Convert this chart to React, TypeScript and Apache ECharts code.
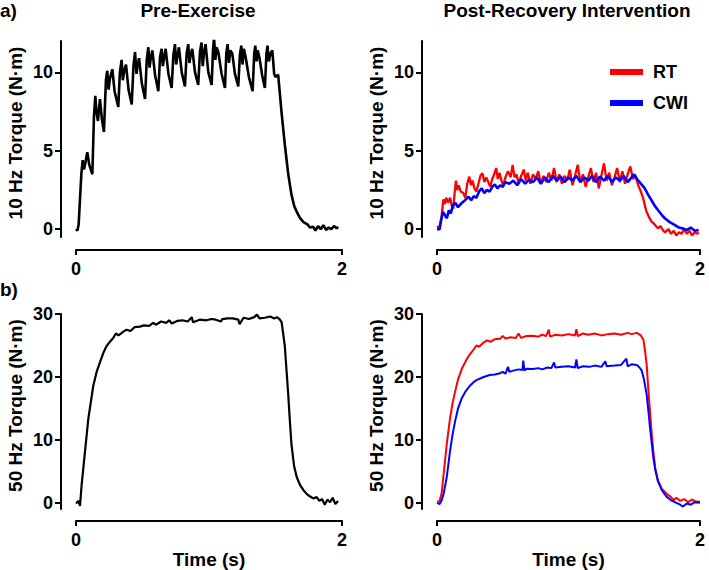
import * as echarts from "echarts";
import { useEffect, useRef } from "react";

const FONT = "Liberation Sans, Arial, Helvetica, sans-serif";

const xTicks = [0, 2];
const yTicks10 = [0, 5, 10];
const yTicks50 = [0, 10, 20, 30];

// 10 Hz, pre-exercise (time s, torque N·m)
const pre10: [number, number][] = [
  [0, 0], [0.01, -0.1], [0.02, 0.3], [0.04, 3.5], [0.05, 4.4], [0.06, 3.8], [0.07, 4.2], [0.085, 4.9], [0.1, 4.1], [0.123, 3.5],
  [0.135, 7.2], [0.145, 8.5], [0.155, 7.4], [0.165, 6.9], [0.18, 8.3], [0.195, 7.0], [0.21, 6.2],
  [0.225, 9.5], [0.235, 10.1], [0.245, 8.9], [0.255, 9.6], [0.273, 10.2], [0.29, 8.8], [0.318, 7.8],
  [0.33, 10.0], [0.343, 10.8], [0.352, 9.5], [0.362, 10.1], [0.376, 10.5], [0.395, 8.9], [0.419, 7.95],
  [0.432, 10.4], [0.444, 11.3], [0.455, 9.9], [0.464, 10.5], [0.474, 10.9], [0.495, 9.3], [0.519, 8.3],
  [0.532, 10.8], [0.544, 11.6], [0.553, 10.3], [0.562, 10.9], [0.574, 11.4], [0.595, 9.8], [0.619, 8.8],
  [0.632, 11.0], [0.644, 11.5], [0.653, 10.4], [0.662, 10.9], [0.674, 11.5], [0.695, 9.9], [0.719, 9.0],
  [0.732, 11.1], [0.744, 11.8], [0.753, 10.5], [0.762, 11.0], [0.774, 11.6], [0.795, 10.0], [0.819, 9.1],
  [0.832, 11.2], [0.844, 11.8], [0.853, 10.6], [0.862, 11.1], [0.874, 11.5], [0.895, 10.0], [0.919, 9.2],
  [0.932, 11.3], [0.944, 11.9], [0.953, 10.4], [0.962, 11.2], [0.974, 11.8], [0.995, 10.0], [1.02, 9.2],
  [1.03, 11.4], [1.038, 12.2], [1.048, 10.8], [1.056, 11.6], [1.07, 11.3], [1.095, 9.9], [1.12, 9.0],
  [1.13, 11.2], [1.14, 11.8], [1.15, 10.6], [1.16, 11.4], [1.175, 11.2], [1.195, 9.9], [1.22, 9.1],
  [1.232, 11.1], [1.243, 11.7], [1.252, 10.5], [1.262, 11.5], [1.275, 11.0], [1.3, 9.7], [1.328, 8.8],
  [1.34, 11.2], [1.348, 11.7], [1.358, 10.7], [1.366, 11.4], [1.38, 10.9], [1.4, 9.8], [1.42, 9.0],
  [1.432, 11.2], [1.44, 11.7], [1.45, 10.7], [1.462, 11.2], [1.476, 11.4], [1.49, 9.9], [1.5, 9.7], [1.52, 9.85],
  [1.547, 7.3], [1.57, 5.4], [1.596, 3.5], [1.62, 2.2], [1.64, 1.5], [1.66, 1.1], [1.685, 0.7], [1.71, 0.45],
  [1.74, 0.3], [1.76, 0.1], [1.784, 0.15], [1.8, -0.1], [1.82, 0.2], [1.84, 0.0], [1.86, 0.25], [1.88, -0.05],
  [1.9, 0.1], [1.92, 0.0], [1.94, 0.2], [1.96, 0.05], [1.97, 0.15],
];

// 10 Hz, post-recovery
const rt10: [number, number][] = [
  [0, 0.1], [0.02, 0.2], [0.035, 0.8], [0.048, 1.9], [0.06, 1.6], [0.07, 2.0], [0.085, 1.7], [0.1, 2.0], [0.112, 1.5], [0.124, 1.3],
  [0.135, 2.4], [0.144, 3.1], [0.155, 2.5], [0.165, 2.8], [0.18, 2.4], [0.2, 2.3], [0.215, 2.0], [0.23, 2.9], [0.246, 3.35],
  [0.258, 2.8], [0.27, 3.1], [0.285, 2.6], [0.3, 2.4], [0.315, 2.9], [0.33, 3.4], [0.346, 3.56], [0.36, 3.0], [0.375, 3.3],
  [0.39, 3.0], [0.405, 2.7], [0.42, 3.2], [0.435, 3.5], [0.45, 3.9], [0.462, 3.2], [0.475, 3.6], [0.49, 3.1], [0.504, 2.8],
  [0.52, 3.3], [0.54, 3.7], [0.56, 3.3], [0.575, 4.1], [0.59, 3.3], [0.605, 3.5], [0.62, 2.9], [0.64, 3.4], [0.66, 3.8],
  [0.675, 3.1], [0.69, 3.6], [0.71, 2.9], [0.73, 3.5], [0.75, 3.2], [0.77, 3.7], [0.79, 2.9], [0.81, 3.4], [0.83, 3.0],
  [0.85, 3.6], [0.87, 3.1], [0.89, 3.9], [0.91, 3.0], [0.93, 3.5], [0.95, 2.9], [0.97, 3.4], [0.99, 3.1], [1.01, 3.8],
  [1.03, 2.8], [1.05, 3.4], [1.07, 4.1], [1.09, 3.0], [1.11, 3.5], [1.13, 2.7], [1.15, 3.3], [1.17, 3.9], [1.19, 3.0],
  [1.21, 3.6], [1.23, 2.6], [1.25, 3.4], [1.27, 4.2], [1.29, 3.1], [1.31, 3.6], [1.33, 2.8], [1.35, 3.3], [1.37, 3.9],
  [1.39, 3.0], [1.41, 3.7], [1.43, 2.9], [1.45, 3.5], [1.47, 4.0], [1.49, 3.2], [1.51, 3.4], [1.53, 2.8], [1.55, 2.4],
  [1.567, 2.0], [1.59, 1.2], [1.61, 0.8], [1.63, 0.5], [1.655, 0.3], [1.68, 0.05], [1.7, 0.2], [1.72, -0.1], [1.734, -0.2],
  [1.76, 0.0], [1.78, -0.3], [1.8, -0.1], [1.82, -0.4], [1.84, -0.2], [1.86, -0.3], [1.88, 0.0], [1.9, -0.3], [1.92, -0.1],
  [1.94, -0.4], [1.96, -0.2], [1.98, -0.3], [1.99, -0.2],
];

const cwi10: [number, number][] = [
  [0, 0], [0.02, 0.0], [0.03, 0.5], [0.045, 1.1], [0.06, 0.9], [0.075, 0.7], [0.09, 1.2], [0.105, 1.0], [0.12, 1.5],
  [0.14, 1.67], [0.16, 1.4], [0.18, 1.6], [0.2, 1.75], [0.22, 1.9], [0.24, 2.07], [0.26, 1.85], [0.28, 2.1], [0.3, 2.0],
  [0.32, 2.4], [0.34, 2.6], [0.36, 2.3], [0.38, 2.5], [0.4, 2.4], [0.42, 2.7], [0.44, 2.85], [0.46, 2.6], [0.48, 2.8],
  [0.5, 2.7], [0.52, 3.0], [0.55, 2.9], [0.58, 3.1], [0.61, 2.8], [0.64, 3.2], [0.67, 2.9], [0.7, 3.15], [0.73, 3.0],
  [0.76, 3.3], [0.79, 2.9], [0.82, 3.3], [0.85, 3.0], [0.88, 3.4], [0.91, 3.1], [0.94, 3.35], [0.97, 3.0], [1.0, 3.3],
  [1.03, 3.1], [1.06, 3.4], [1.09, 3.0], [1.12, 3.3], [1.15, 3.1], [1.18, 3.4], [1.21, 3.0], [1.24, 3.35], [1.27, 3.1],
  [1.3, 3.4], [1.33, 3.0], [1.36, 3.3], [1.39, 3.1], [1.42, 3.4], [1.45, 3.0], [1.48, 3.3], [1.5, 3.5], [1.52, 3.2],
  [1.55, 2.9], [1.58, 2.6], [1.605, 2.2], [1.63, 1.86], [1.655, 1.5], [1.68, 1.22], [1.71, 0.9], [1.734, 0.68],
  [1.77, 0.45], [1.81, 0.26], [1.84, 0.1], [1.87, 0.04], [1.9, -0.05], [1.93, 0.1], [1.96, -0.1], [1.99, -0.05],
];

// 50 Hz, pre-exercise
const pre50: [number, number][] = [
  [0, -0.1], [0.02, 0.3], [0.03, -0.5], [0.043, 3.0], [0.068, 8.2], [0.093, 13.4], [0.13, 18.6], [0.155, 20.8],
  [0.18, 22.3], [0.205, 23.8], [0.23, 24.9], [0.255, 25.6], [0.28, 26.2], [0.3, 26.9], [0.32, 26.6], [0.356, 27.2],
  [0.38, 27.5], [0.41, 27.3], [0.44, 27.9], [0.48, 28.0], [0.51, 28.2], [0.55, 28.1], [0.58, 28.6], [0.6, 28.3],
  [0.64, 28.8], [0.68, 28.6], [0.7, 29.0], [0.72, 28.5], [0.76, 28.9], [0.8, 29.0], [0.84, 28.8], [0.87, 29.5],
  [0.88, 28.7], [0.93, 29.1], [0.98, 29.0], [1.02, 29.2], [1.05, 29.1], [1.09, 28.8], [1.1, 29.2], [1.14, 29.3],
  [1.18, 29.3], [1.22, 29.1], [1.23, 28.4], [1.26, 29.4], [1.3, 29.2], [1.34, 29.5], [1.36, 29.9], [1.38, 29.3],
  [1.42, 29.4], [1.46, 29.6], [1.49, 29.3], [1.51, 29.5], [1.53, 29.2], [1.546, 28.7], [1.557, 27.0], [1.57, 24.9],
  [1.583, 21.0], [1.596, 17.1], [1.608, 13.0], [1.62, 9.3], [1.64, 5.8], [1.66, 4.06], [1.685, 2.8], [1.71, 2.0],
  [1.74, 1.3], [1.76, 1.0], [1.784, 0.7], [1.81, 0.9], [1.83, 0.3], [1.85, 0.6], [1.87, -0.3], [1.89, 0.5],
  [1.91, 0.1], [1.93, 0.8], [1.95, -0.2], [1.97, 0.3],
];

// 50 Hz, post-recovery
const rt50: [number, number][] = [
  [0, 0.15], [0.02, 0.3], [0.035, 1.5], [0.048, 4.06], [0.074, 9.3], [0.099, 13.4], [0.118, 15.8], [0.137, 17.6],
  [0.16, 19.6], [0.188, 21.25], [0.22, 22.6], [0.25, 23.6], [0.28, 24.4], [0.3, 25.0], [0.32, 24.8], [0.35, 25.4],
  [0.38, 25.8], [0.41, 25.6], [0.44, 26.0], [0.48, 26.05], [0.5, 26.5], [0.52, 26.1], [0.56, 26.3], [0.6, 26.2],
  [0.62, 26.9], [0.64, 26.2], [0.68, 26.5], [0.73, 26.56], [0.77, 26.4], [0.8, 26.7], [0.83, 26.5], [0.85, 27.5],
  [0.86, 26.4], [0.9, 26.7], [0.95, 26.6], [1.0, 26.8], [1.05, 26.6], [1.06, 27.6], [1.07, 26.5], [1.11, 26.9],
  [1.15, 26.7], [1.2, 26.9], [1.25, 26.6], [1.3, 26.8], [1.35, 26.9], [1.4, 26.7], [1.45, 27.0], [1.48, 26.8],
  [1.52, 27.0], [1.55, 26.6], [1.57, 25.9], [1.583, 24.0], [1.595, 21.8], [1.607, 18.0], [1.62, 14.5], [1.633, 11.0],
  [1.645, 8.2], [1.66, 5.5], [1.68, 3.5], [1.71, 2.2], [1.747, 1.45], [1.78, 0.9], [1.8, 0.4], [1.82, 0.8], [1.85, 0.3],
  [1.88, 0.6], [1.91, 0.1], [1.94, 0.5], [1.97, 0.2], [2.0, 0.15],
];

const cwi50: [number, number][] = [
  [0, 0], [0.02, -0.2], [0.036, 0.4], [0.05, 1.4], [0.074, 4.06], [0.099, 8.2], [0.118, 10.8], [0.137, 12.9],
  [0.16, 15.0], [0.188, 16.6], [0.22, 17.8], [0.25, 18.6], [0.28, 19.2], [0.3, 19.5], [0.35, 19.95], [0.4, 20.3],
  [0.44, 20.4], [0.48, 20.6], [0.5, 20.8], [0.52, 20.5], [0.54, 21.6], [0.55, 20.8], [0.58, 21.0], [0.62, 21.2],
  [0.65, 21.1], [0.656, 22.6], [0.665, 21.0], [0.68, 21.3], [0.73, 21.25], [0.77, 21.4], [0.8, 21.2], [0.84, 21.5],
  [0.87, 21.4], [0.89, 22.3], [0.9, 21.5], [0.95, 21.6], [1.0, 21.7], [1.05, 21.5], [1.06, 22.8], [1.07, 21.4],
  [1.11, 21.7], [1.16, 21.6], [1.2, 21.8], [1.25, 21.6], [1.28, 22.5], [1.29, 21.7], [1.35, 21.8], [1.4, 21.9],
  [1.44, 22.9], [1.45, 21.7], [1.48, 22.0], [1.52, 21.9], [1.54, 21.5], [1.557, 21.0], [1.575, 19.5], [1.595, 17.1],
  [1.608, 14.5], [1.62, 11.9], [1.633, 9.5], [1.645, 7.2], [1.66, 5.2], [1.68, 3.5], [1.71, 2.0], [1.747, 0.94],
  [1.78, 0.4], [1.82, 0.0], [1.85, -0.3], [1.87, -0.6], [1.9, -0.1], [1.93, -0.3], [1.96, 0.1], [2.0, 0.0],
];

const bold = { fontFamily: FONT, fontWeight: "bold" as const, color: "#000" };

function xAxis(gridIndex: number, withName: boolean, offset: number) {
  return {
    gridIndex,
    type: "value",
    min: 0,
    max: 2,
    interval: 2,
    offset,
    axisLine: { show: true, onZero: false, lineStyle: { color: "#000", width: 2 } },
    axisTick: { show: true, length: 5, customValues: xTicks, lineStyle: { color: "#000", width: 2 } },
    axisLabel: { ...bold, fontSize: 18, margin: 10, customValues: xTicks },
    splitLine: { show: false },
    name: withName ? "Time (s)" : "",
    nameLocation: "middle",
    nameGap: 23,
    nameTextStyle: { ...bold, fontSize: 19, verticalAlign: "top" },
  };
}

function yAxis(gridIndex: number, name: string, min: number, max: number, ticks: number[]) {
  return {
    gridIndex,
    type: "value",
    min,
    max,
    offset: 15,
    axisLine: { show: true, onZero: false, lineStyle: { color: "#000", width: 2 } },
    axisTick: { show: true, length: 6, customValues: ticks, lineStyle: { color: "#000", width: 2 } },
    axisLabel: { ...bold, fontSize: 18, margin: 8, customValues: ticks },
    splitLine: { show: false },
    name,
    nameLocation: "middle",
    nameGap: 36,
    nameTextStyle: { ...bold, fontSize: 19, padding: [0, 0, 0, 12] },
  };
}

function line(name: string, data: [number, number][], color: string, idx: number, width: number) {
  return {
    name,
    type: "line",
    xAxisIndex: idx,
    yAxisIndex: idx,
    data,
    color,
    showSymbol: false,
    symbol: "none",
    lineStyle: { color, width },
    silent: true,
  };
}

export default function App() {
  const ref = useRef<HTMLDivElement>(null);

  useEffect(() => {
    const chart = echarts.init(ref.current!, null, { renderer: "svg" });
    chart.setOption({
      animation: false,
      backgroundColor: "#fff",
      grid: [
        { left: 76, top: 41, width: 266, height: 196 },
        { left: 437, top: 41, width: 263, height: 196 },
        { left: 76, top: 314, width: 266, height: 198 },
        { left: 437, top: 314, width: 263, height: 198 },
      ],
      xAxis: [xAxis(0, false, 13), xAxis(1, false, 13), xAxis(2, true, 12), xAxis(3, true, 12)],
      yAxis: [
        yAxis(0, "10 Hz Torque (N·m)", -0.5, 12, yTicks10),
        yAxis(1, "10 Hz Torque (N·m)", -0.5, 12, yTicks10),
        yAxis(2, "50 Hz Torque (N·m)", -1, 30, yTicks50),
        yAxis(3, "50 Hz Torque (N·m)", -1, 30, yTicks50),
      ],
      legend: {
        data: ["RT", "CWI"],
        orient: "vertical",
        left: 605,
        top: 57,
        icon: "rect",
        itemWidth: 33,
        itemHeight: 6,
        itemGap: 11,
        selectedMode: false,
        textStyle: { ...bold, fontSize: 18, lineHeight: 20, padding: [0, 0, 0, 5] },
      },
      graphic: [
        { type: "text", left: 0, top: 1, style: { ...bold, text: "a)", fontSize: 19, fill: "#000" } },
        { type: "text", left: 0, top: 280, style: { ...bold, text: "b)", fontSize: 19, fill: "#000" } },
        {
          type: "text",
          x: 198,
          y: 10,
          style: { ...bold, text: "Pre-Exercise", fontSize: 19, fill: "#000", align: "center", verticalAlign: "middle" },
        },
        {
          type: "text",
          x: 567,
          y: 10,
          style: {
            ...bold,
            text: "Post-Recovery Intervention",
            fontSize: 19,
            fill: "#000",
            align: "center",
            verticalAlign: "middle",
          },
        },
      ],
      series: [
        line("Pre", pre10, "#000000", 0, 2.6),
        line("RT", rt10, "#ff0000", 1, 2.3),
        line("CWI", cwi10, "#0000ff", 1, 2.6),
        line("Pre", pre50, "#000000", 2, 2.2),
        line("RT", rt50, "#ff0000", 3, 2),
        line("CWI", cwi50, "#0000ff", 3, 2),
      ],
    });
    return () => chart.dispose();
  }, []);

  return <div ref={ref} style={{ position: "fixed", left: 0, top: 0, width: 709, height: 570 }} />;
}
